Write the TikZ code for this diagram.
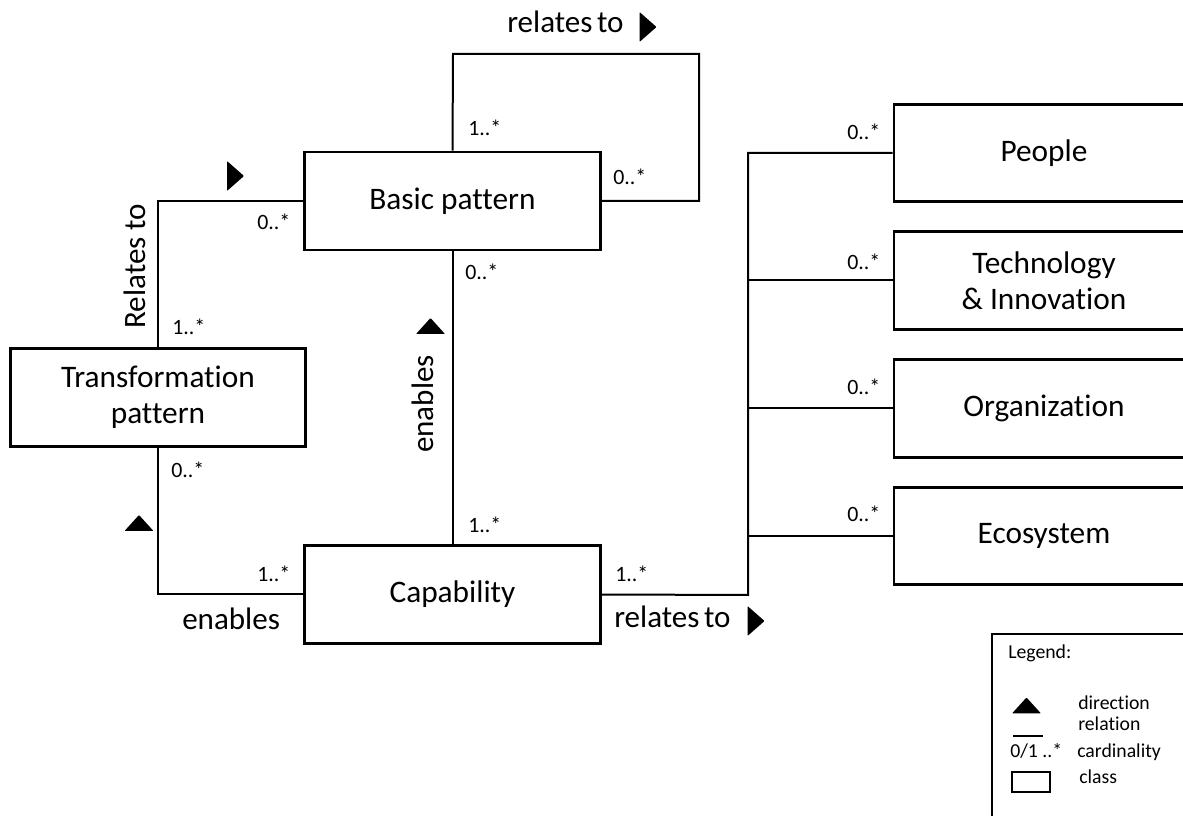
\documentclass[tikz,border=0pt]{standalone}
\usepackage{fontspec}
\setmainfont{Carlito}[Ligatures=NoCommon]
\begin{document}
\begin{tikzpicture}[x=0.75pt,y=-0.75pt,
  classbox/.style={draw,line width=2.2pt,rectangle,inner sep=0pt,
    minimum width=221.5pt,minimum height=73.5pt,align=center,
    font=\fontsize{23.5}{27}\selectfont},
  sidebox/.style={classbox,minimum width=225pt,minimum height=73pt},
  conn/.style={line width=1.5pt},
  card/.style={anchor=base west,inner sep=0pt,font=\fontsize{16.4}{19}\selectfont},
  rel/.style={inner sep=0pt,font=\fontsize{23.3}{27}\selectfont},
  legtext/.style={anchor=base west,inner sep=0pt,font=\fontsize{14.8}{17}\selectfont},
  dirright/.pic={\fill[rounded corners=0.6pt] (-8.5,-15) -- (8.5,0) -- (-8.5,15) -- cycle;},
  dirup/.pic={\fill[rounded corners=0.6pt] (-14.5,8) -- (0,-8) -- (14.5,8) -- cycle;}]
\useasboundingbox (0,0) rectangle (1183,816);

% classes
\node[classbox] (basic) at (452.5,201) {Basic pattern};
\node[classbox] (trans) at (158,397.5) {Transformation\\pattern};
\node[classbox] (cap) at (452.5,594.5) {Capability};
\node[sidebox] (people) at (1044,153) {People};
\node[sidebox] (tech) at (1044,280.5) {Technology\\\& Innovation};
\node[sidebox] (org) at (1044,408.5) {Organization};
\node[sidebox] (eco) at (1044,536) {Ecosystem};

% bend points
\coordinate (loopTL) at (453,54);
\coordinate (loopTR) at (699,54);
\coordinate (bus) at (748,595);

% Basic pattern relates to itself
\draw[conn] (basic.north) -- (loopTL) -- (loopTR) |- (basic.east);
% Transformation pattern relates to Basic pattern
\draw[conn] (trans.north) |- (basic.west);
% Capability enables Basic pattern
\draw[conn] (basic.south) -- (cap.north);
% Capability enables Transformation pattern
\draw[conn] (trans.south) |- (cap.west);
% Capability relates to the four dimensions
\draw[conn] (cap.east) -- (bus) -- (bus |- people.west) -- (people.west);
\draw[conn] (bus |- tech.west) -- (tech.west);
\draw[conn] (bus |- org.west) -- (org.west);
\draw[conn] (bus |- eco.west) -- (eco.west);

% cardinalities
\node[card] (c1) at (468,136) {1..*};
\node[card] (c2) at (613,185) {0..*};
\node[card] (c3) at (257,230) {0..*};
\node[card] (c4) at (172,335) {1..*};
\node[card] (c5) at (465,280) {0..*};
\node[card] (c6) at (468,533) {1..*};
\node[card] (c7) at (171,478) {0..*};
\node[card] (c8) at (257,582) {1..*};
\node[card] (c9) at (615,582) {1..*};
\node[card] (c10) at (847,140) {0..*};
\node[card] (c11) at (847,270) {0..*};
\node[card] (c12) at (847,395) {0..*};
\node[card] (c13) at (847,522) {0..*};

% relation names and directions
\node[rel,anchor=base west] (r1) at (507,33) {relates\kern-0.08em\ to};
\pic at (648,27) {dirright};
\node[rel,anchor=base,rotate=90] (r2) at (145,266) {Relates to};
\pic at (235.5,176) {dirright};
\node[rel,anchor=base,rotate=90] (r3) at (433,404) {enables};
\pic at (430.5,326) {dirup};
\node[rel,anchor=base west] (r4) at (182,630) {enables};
\pic at (139,523) {dirup};
\node[rel,anchor=base west] (r5) at (614,628) {relates\kern-0.08em\ to};
\pic at (756,621) {dirright};

% legend
\draw[line width=1.1pt] (992,634) rectangle (1200,830);
\node[legtext] (lg) at (1008,658) {Legend:};
\pic at (1026.5,705.5) {dirup};
\node[legtext] (l1) at (1078,710) {direction};
\draw[line width=1.5pt] (1013,736) -- (1043,736);
\node[legtext] (l2) at (1078,730) {relation};
\node[legtext] (l3) at (1010,758) {0/1 ..*};
\node[legtext] (l4) at (1077,758) {cardinality};
\draw[line width=2.2pt] (1012,772) rectangle (1050,792);
\node[legtext] (l5) at (1079,783) {class};
\end{tikzpicture}
\end{document}
